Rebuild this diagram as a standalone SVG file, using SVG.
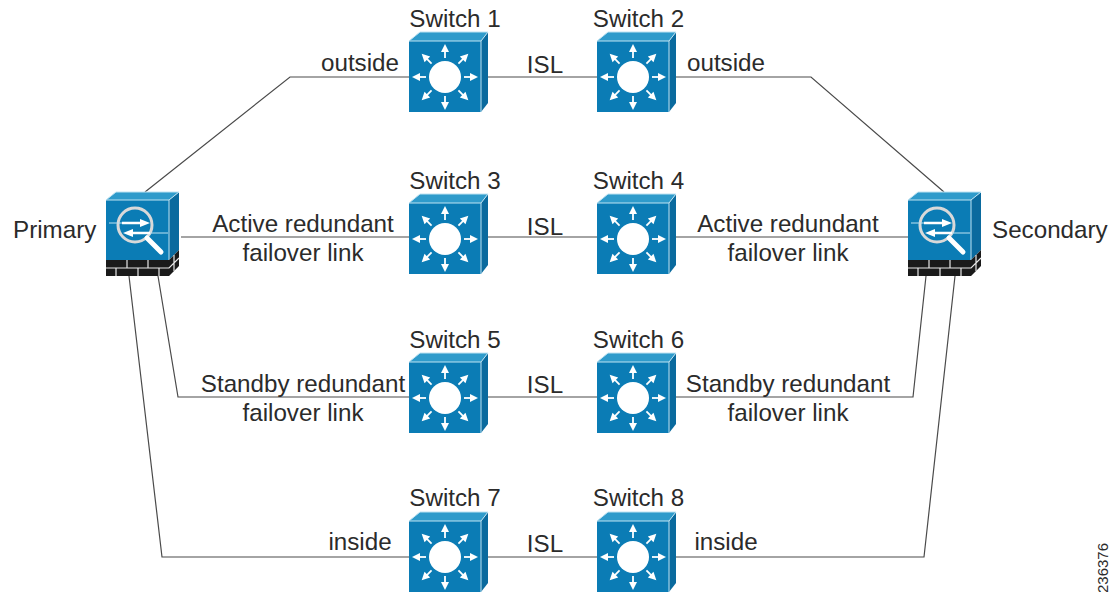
<svg xmlns="http://www.w3.org/2000/svg" width="1118" height="592" viewBox="0 0 1118 592">
<style>
text{font-family:"Liberation Sans",Arial,sans-serif;font-size:24.2px;fill:#2b2b2b}
.m{text-anchor:middle}
.l{fill:none;stroke:#4a4a4a;stroke-width:1.2}
.f{fill:#0b7cb5}.t{fill:#2f9bcb}.s{fill:#0a6a9e}
.e{fill:none;stroke:#bfe3f2;stroke-width:1}
.a{fill:none;stroke:#fff;stroke-width:1.8}.h{fill:#fff}
</style>
<defs>
<g id="arrow"><path class="a" d="M0-19V-27"/><path class="h" d="M0-33l4 8h-8z"/></g>
<g id="sw">
<path class="f" d="M0 9H72V80H0z"/>
<path class="t" d="M0 9L11 0H79L72 9z"/>
<path class="s" d="M72 9L79 0V71L72 80z"/>
<path class="e" d="M0 9L11 0H79L72 9H0M72 9V80M72 9"/>
<g transform="translate(36 45)">
<circle r="16" fill="#fff"/>
<use href="#arrow"/><use href="#arrow" transform="rotate(45)"/><use href="#arrow" transform="rotate(90)"/><use href="#arrow" transform="rotate(135)"/><use href="#arrow" transform="rotate(180)"/><use href="#arrow" transform="rotate(225)"/><use href="#arrow" transform="rotate(270)"/><use href="#arrow" transform="rotate(315)"/>
</g>
</g>
<g id="fw">
<path class="f" d="M0 8H63V68H0z"/>
<path class="t" d="M0 8L10 0H73L63 8z"/>
<path class="s" d="M63 8L73 0V58L63 68z"/>
<path class="e" d="M0 8L10 0H73L63 8H0M63 8V68"/>
<path d="M0 68H63L73 58V74L63 84H0z" fill="#1a1a1a"/>
<path d="M0 76H63L73 66M21 68V76M42 68V76M10 76V84M32 76V84M53 76V84M68 63V79" fill="none" stroke="#e8e8e8" stroke-width="1.2"/>
<circle cx="29" cy="33" r="17" fill="#0b7cb5" stroke="#d9d9d9" stroke-width="3"/>
<path d="M41 46L55 60" stroke="#fff" stroke-width="5" stroke-linecap="round" fill="none"/>
<path d="M3 31H20M40 41H62" stroke="#bfe3f2" stroke-width="1" fill="none"/>
<path d="M16 31H36M26 41H44" stroke="#fff" stroke-width="2.6" fill="none"/>
<path d="M34 27L44 31L34 35zM27 37L17 41L27 45z" fill="#fff"/>
</g>
</defs>
<g id="connectors">
<path class="l" d="M145 192L290 77H409"/>
<path class="l" d="M488 77H597"/>
<path class="l" d="M676 77H811L944 192"/>
<path class="l" d="M181 237H409"/>
<path class="l" d="M488 237H597"/>
<path class="l" d="M676 237H908"/>
<path class="l" d="M158 276L178 397H409"/>
<path class="l" d="M488 397H597"/>
<path class="l" d="M676 397H913L926 276"/>
<path class="l" d="M129 276L162 557H409"/>
<path class="l" d="M488 557H597"/>
<path class="l" d="M676 557H924L955 276"/>
</g>
<g id="primary"><use href="#fw" x="106" y="192"/><text x="13" y="238">Primary</text></g>
<g id="secondary"><use href="#fw" x="908" y="192"/><text x="992" y="238">Secondary</text></g>
<g id="switch1"><use href="#sw" x="409" y="32"/><text x="455" y="27" class="m">Switch 1</text></g>
<g id="switch2"><use href="#sw" x="597" y="32"/><text x="638.500" y="27" class="m">Switch 2</text></g>
<g id="switch3"><use href="#sw" x="409" y="194"/><text x="455" y="189" class="m">Switch 3</text></g>
<g id="switch4"><use href="#sw" x="597" y="194"/><text x="638.500" y="189" class="m">Switch 4</text></g>
<g id="switch5"><use href="#sw" x="409" y="353"/><text x="455" y="348" class="m">Switch 5</text></g>
<g id="switch6"><use href="#sw" x="597" y="353"/><text x="638.500" y="348" class="m">Switch 6</text></g>
<g id="switch7"><use href="#sw" x="409" y="512"/><text x="455" y="506" class="m">Switch 7</text></g>
<g id="switch8"><use href="#sw" x="597" y="512"/><text x="638.500" y="506" class="m">Switch 8</text></g>
<g id="labels">
<text x="360" y="71" class="m">outside</text>
<text x="726" y="71" class="m">outside</text>
<text x="545" y="73" class="m">ISL</text>
<text x="545" y="235" class="m">ISL</text>
<text x="545" y="393" class="m">ISL</text>
<text x="545" y="552" class="m">ISL</text>
<text x="303" y="232" class="m">Active redundant</text>
<text x="303" y="261" class="m">failover link</text>
<text x="788" y="232" class="m">Active redundant</text>
<text x="788" y="261" class="m">failover link</text>
<text x="303" y="392" class="m">Standby redundant</text>
<text x="303" y="421" class="m">failover link</text>
<text x="788" y="392" class="m">Standby redundant</text>
<text x="788" y="421" class="m">failover link</text>
<text x="360" y="550" class="m">inside</text>
<text x="726" y="550" class="m">inside</text>
<text transform="translate(1108 593) rotate(-90)" style="font-size:15px">236376</text>
</g>
</svg>
